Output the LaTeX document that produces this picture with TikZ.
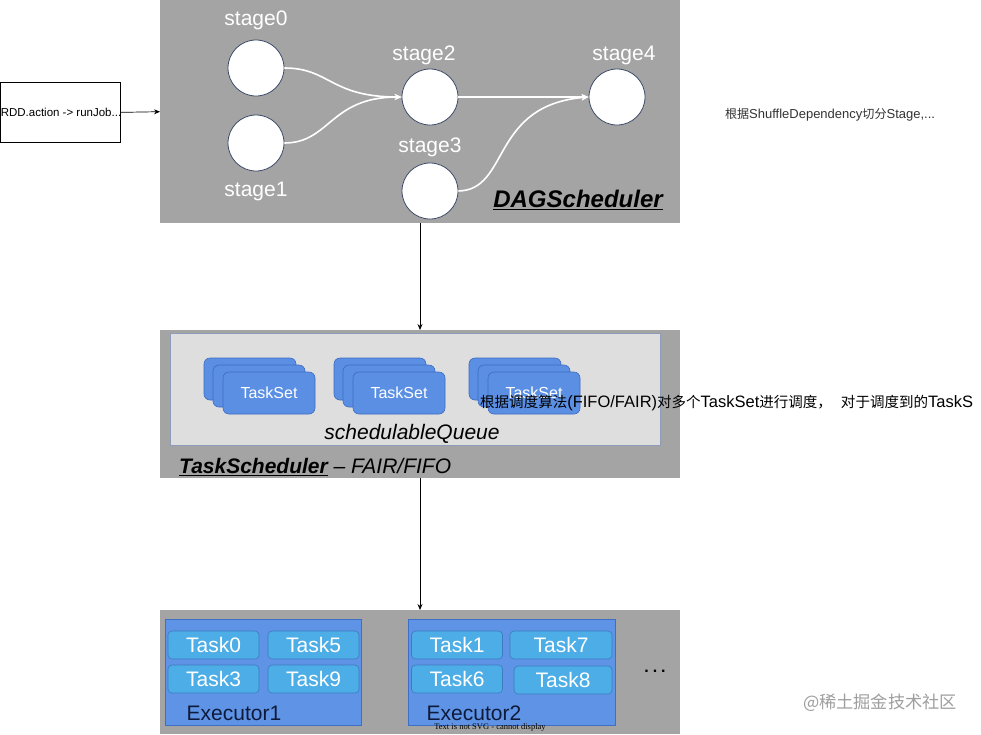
\documentclass[tikz,border=0pt]{standalone}
\usepackage{fontspec}
\setmainfont{Liberation Sans}
\newfontfamily\cjk[Scale=0.93]{Noto Sans CJK SC}
\newfontfamily\cjknote[Scale=0.88]{Noto Sans CJK SC}
\newfontfamily\oldserif{Liberation Serif}
\usetikzlibrary{arrows.meta}
\definecolor{bggray}{HTML}{A4A4A4}
\definecolor{queuefill}{HTML}{DEDEDE}
\definecolor{queueline}{HTML}{8E9CB8}
\definecolor{tsblue}{HTML}{5B8FE3}
\definecolor{tsline}{HTML}{3E6BC2}
\definecolor{exfill}{HTML}{5E93E6}
\definecolor{exline}{HTML}{3F6FC4}
\definecolor{taskfill}{HTML}{4DADE6}
\definecolor{taskline}{HTML}{3C7CBF}
\definecolor{navy}{HTML}{0E1A3A}
\definecolor{circline}{HTML}{3E4C6A}
\begin{document}
\begin{tikzpicture}[x=1pt,y=-1pt,
  panel/.style={fill=bggray,draw=none},
  stagecirc/.style={circle,fill=white,draw=circline,line width=0.8pt,minimum size=56pt,inner sep=0pt},
  stagelbl/.style={text=white,font=\fontsize{21}{21}\selectfont},
  flow/.style={draw=white,line width=1.6pt,-{Stealth[length=7pt,width=6pt]}},
  conn/.style={draw=black,line width=0.7pt,-{Stealth[length=6pt,width=5pt]}},
  tsbox/.style={rectangle,rounded corners=6pt,fill=tsblue,draw=tsline,line width=0.6pt,minimum width=92pt,minimum height=42pt,inner sep=0pt},
  taskbox/.style={rectangle,rounded corners=4pt,fill=taskfill,draw=taskline,line width=0.6pt,minimum height=28pt,inner sep=0pt,text=white,font=\fontsize{21}{21}\selectfont},
  exbox/.style={rectangle,fill=exfill,draw=exline,line width=0.8pt,inner sep=0pt},
  exlbl/.style={text=navy,font=\fontsize{21}{21}\selectfont}
]
\useasboundingbox (0,0) rectangle (981,734);
\fill[white] (0,0) rectangle (981,734);

% ---------- left box ----------
\node[draw=black,fill=white,line width=0.7pt,minimum width=120pt,minimum height=60pt,inner sep=0pt,anchor=north west] (rdd) at (0,82) {};
\node[font=\fontsize{11.5}{12}\selectfont] (rddtxt) at (61,112) {RDD.action -> runJob...};

% ---------- DAGScheduler panel ----------
\node[panel,minimum width=520pt,minimum height=223pt,inner sep=0pt,anchor=north west] (dag) at (160,0) {};
\node[stagecirc] (s0) at (256,68) {};
\node[stagecirc] (s1) at (256,143) {};
\node[stagecirc] (s2) at (430,97) {};
\node[stagecirc] (s3) at (430,191) {};
\node[stagecirc] (s4) at (617,97) {};
\node[stagelbl] (l0) at (256,20) {stage0};
\node[stagelbl] (l1) at (256,191) {stage1};
\node[stagelbl] (l2) at (424,55) {stage2};
\node[stagelbl] (l3) at (430,147) {stage3};
\node[stagelbl] (l4) at (624,55) {stage4};
\draw[flow] (s0.east) .. controls (330,68) and (330,97) .. (s2.west);
\draw[flow] (s1.east) .. controls (330,143) and (330,97) .. (s2.west);
\draw[flow] (s2.east) -- (s4.west);
\draw[flow] (s3.east) .. controls (510,190) and (490,105) .. (s4.west);
\node[font=\bfseries\itshape\fontsize{24}{24}\selectfont,text=black] (dagt) at (578,200) {\underline{DAGScheduler}};

\node[text=black!80,font=\fontsize{13}{13}\selectfont] (note1) at (830,115) {{\cjk 根据}ShuffleDependency{\cjk 切分}Stage,...};

% ---------- TaskScheduler panel ----------
\node[panel,minimum width=520pt,minimum height=148pt,inner sep=0pt,anchor=north west] (tsp) at (160,330) {};
\node[fill=queuefill,draw=queueline,line width=1pt,minimum width=490pt,minimum height=112pt,inner sep=0pt,anchor=north west] (queue) at (170,333) {};
\foreach \dx/\nm in {0/a,130/b,265/c}{
  \node[tsbox] (ts\nm1) at (250+\dx,379) {};
  \node[tsbox] (ts\nm2) at (259+\dx,386) {};
  \node[tsbox] (ts\nm3) at (269+\dx,393) {};
}
\node[text=white,font=\fontsize{16}{16}\selectfont] (tt1) at (tsa3) {TaskSet};
\node[text=white,font=\fontsize{16}{16}\selectfont] (tt2) at (tsb3) {TaskSet};
\node[text=white,font=\fontsize{16}{16}\selectfont] (tt3) at (tsc3) {TaskSet};
\node[font=\itshape\fontsize{21}{21}\selectfont] (sq) at (412,434) {schedulableQueue};
\node[font=\fontsize{21}{21}\selectfont,anchor=west,inner sep=0pt] (tst) at (179,467) {\textbf{\textit{\underline{TaskScheduler}}}\textit{ – FAIR/FIFO}};

\node[font=\fontsize{16.5}{17}\selectfont,anchor=west,inner sep=0pt] (note2) at (480,403) {{\cjknote 根据调度算法}(FIFO/FAIR){\cjknote 对多个}TaskSet{\cjknote 进行调度，\hspace{9pt}对于调度到的}TaskS};

% ---------- Executors panel ----------
\node[panel,minimum width=520pt,minimum height=124pt,inner sep=0pt,anchor=north west] (exp) at (160,610) {};
\node[exbox,minimum width=196pt,minimum height=106pt,anchor=north west] (ex1) at (165,619) {};
\node[exbox,minimum width=207pt,minimum height=106pt,anchor=north west] (ex2) at (408,619) {};
\node[taskbox,minimum width=91pt] (t0) at (213.5,645) {Task0};
\node[taskbox,minimum width=91pt] (t5) at (313.5,645) {Task5};
\node[taskbox,minimum width=91pt] (t3) at (213.5,679) {Task3};
\node[taskbox,minimum width=91pt] (t9) at (313.5,679) {Task9};
\node[taskbox,minimum width=91pt] (t1) at (457,645) {Task1};
\node[taskbox,minimum width=102pt] (t7) at (561,645) {Task7};
\node[taskbox,minimum width=91pt] (t6) at (457,679) {Task6};
\node[taskbox,minimum width=98pt] (t8) at (563,680) {Task8};
\node[exlbl] (e1) at (234,713) {Executor1};
\node[exlbl] (e2) at (474,713) {Executor2};
\node[font=\bfseries\fontsize{16}{16}\selectfont] (dots) at (655,671) {.\hspace{4pt}.\hspace{4pt}.};
\node[font=\oldserif\fontsize{8.5}{9}\selectfont] (nosvg) at (490,727) {Text is not SVG - cannot display};

\node[text=black!38,font=\cjk\fontsize{18.5}{18.5}\selectfont] (wm) at (880,703) {@稀土掘金技术社区};

% ---------- connectors ----------
\draw[conn] (rdd.east) -- (dag.west);
\draw[conn] (420,223) -- (tsp.north -| 420,0);
\draw[conn] (420,478) -- (exp.north -| 420,0);
\end{tikzpicture}
\end{document}
